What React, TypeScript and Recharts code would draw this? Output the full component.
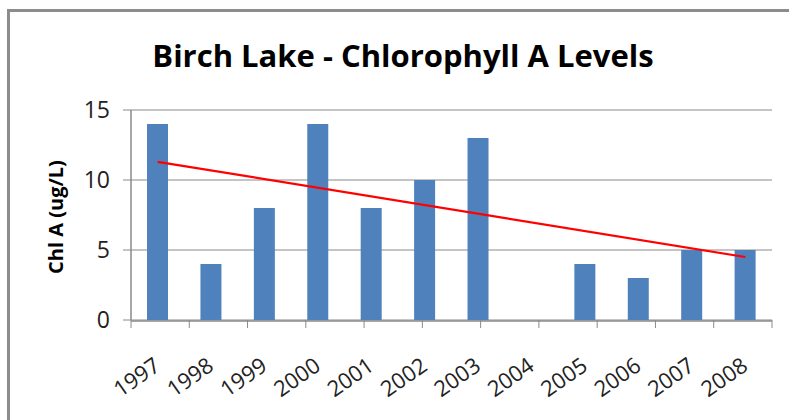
import { ComposedChart, Bar, Line, XAxis, YAxis, CartesianGrid, Label } from 'recharts';

const years = ['1997', '1998', '1999', '2000', '2001', '2002', '2003', '2004', '2005', '2006', '2007', '2008'];
const chlA = [14, 4, 8, 14, 8, 10, 13, null, 4, 3, 5, 5];
// linear trend, read at its two ends
const trend = [11.3, null, null, null, null, null, null, null, null, null, null, 4.5];
const yTicks = [0, 5, 10, 15];
const boundaryTicks = [0, 1, 2, 3, 4, 5, 6, 7, 8, 9, 10, 11, 12];

const data = years.map((year, i) => ({ year, chlA: chlA[i], trend: trend[i] }));

const FONT = '"Open Sans", "DejaVu Sans", sans-serif';
const AXIS = '#8a8a8a';

function YearTick({ x, y, payload }: any) {
  return (
    <text
      x={x + 4}
      y={y + 40}
      transform={`rotate(-35, ${x + 4}, ${y + 40})`}
      textAnchor="end"
      fontSize={22}
      fontFamily={FONT}
      fill="#222"
    >
      {payload.value}
    </text>
  );
}

export default function App() {
  return (
    <div
      style={{
        position: 'fixed',
        left: 0,
        top: 0,
        width: 789,
        height: 420,
        overflow: 'hidden',
        background: '#fff',
      }}
    >
      <div
        style={{
          position: 'absolute',
          left: 7,
          top: 9,
          width: 900,
          height: 500,
          border: '3px solid #8c8c8c',
        }}
      />
      <div
        style={{
          position: 'absolute',
          left: 0,
          top: 34,
          width: 806,
          textAlign: 'center',
          fontFamily: FONT,
          fontWeight: 700,
          fontSize: 31,
          color: '#000',
        }}
      >
        Birch Lake - Chlorophyll A Levels
      </div>
      <div style={{ position: 'absolute', left: 0, top: 0 }}>
        <ComposedChart
          width={789}
          height={420}
          data={data}
          margin={{ top: 110, right: 17, left: 51, bottom: 40 }}
          barCategoryGap="30%"
        >
          <CartesianGrid horizontal vertical={false} stroke={AXIS} strokeOpacity={1} xAxisId="b" />
          <XAxis
            xAxisId="a"
            type="number"
            domain={[0, 12]}
            allowDataOverflow
            ticks={boundaryTicks}
            interval={0}
            tick={() => <g />}
            tickLine={{ stroke: AXIS }}
            tickSize={8}
            axisLine={false}
            height={1}
          />
          <XAxis
            xAxisId="b"
            dataKey="year"
            axisLine={{ stroke: AXIS, strokeWidth: 1.5 }}
            tickLine={false}
            tick={<YearTick />}
            interval={0}
            height={59}
          />
          <YAxis
            domain={[0, 15]}
            ticks={yTicks}
            width={80}
            axisLine={{ stroke: AXIS, strokeWidth: 1.5 }}
            tickLine={{ stroke: AXIS }}
            tickSize={8}
            tickMargin={13}
            tick={{ fontSize: 23, fill: '#222', fontFamily: FONT }}
          >
            <Label
              content={() => (
                <text
                  x={55}
                  y={217}
                  transform="rotate(-90, 55, 217)"
                  textAnchor="middle"
                  dominantBaseline="central"
                  fontFamily={FONT}
                  fontWeight={700}
                  fontSize={20}
                  fill="#000"
                >
                  Chl A (ug/L)
                </text>
              )}
            />
          </YAxis>
          <Bar xAxisId="b" dataKey="chlA" fill="#4f81bd" isAnimationActive={false} />
          <Line
            xAxisId="b"
            dataKey="trend"
            stroke="#ff0000"
            strokeWidth={2.2}
            dot={false}
            connectNulls
            isAnimationActive={false}
          />
        </ComposedChart>
      </div>
    </div>
  );
}
